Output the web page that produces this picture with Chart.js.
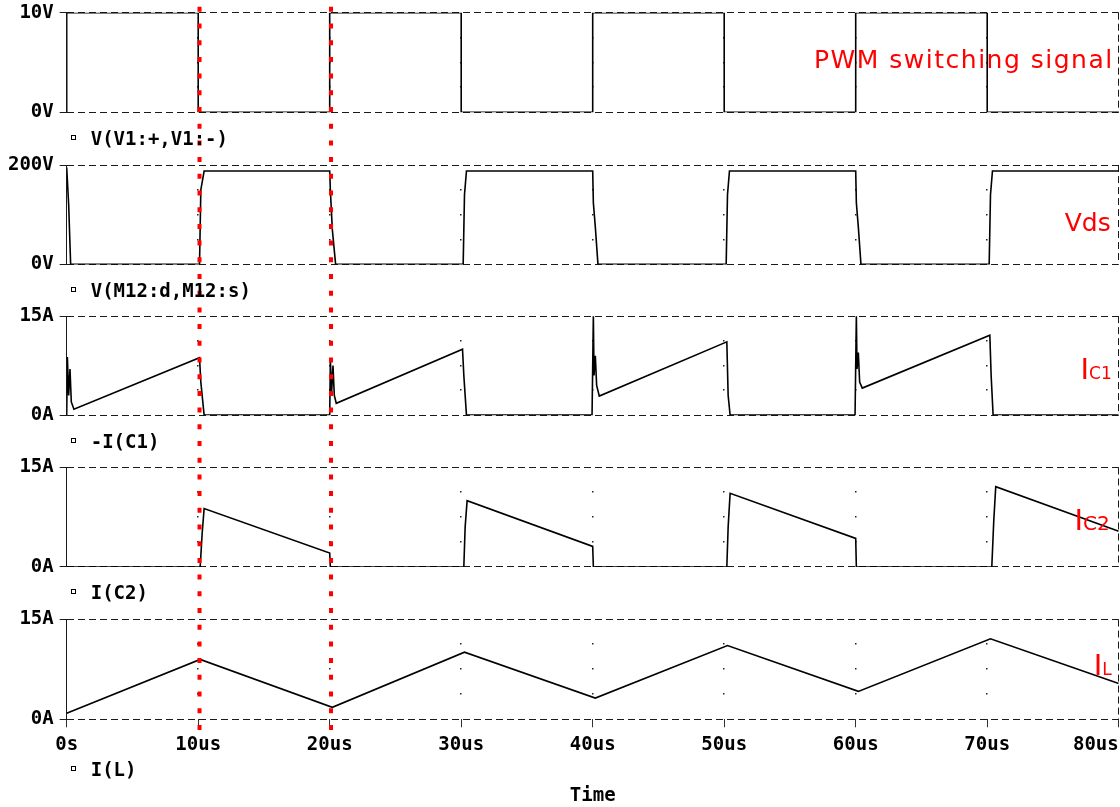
<!DOCTYPE html>
<html>
<head>
<meta charset="utf-8">
<script src="https://cdn.jsdelivr.net/npm/chart.js@4"></script>
<style>
  html, body { margin: 0; padding: 0; background: #fff; }
  canvas { display: block; }
</style>
</head>
<body>
<canvas id="simChart" width="1120" height="807"></canvas>
<script>
// time axis, microseconds
const timeTicks = [0, 10, 20, 30, 40, 50, 60, 70, 80];
const timeLabels = ['0s', '10us', '20us', '30us', '40us', '50us', '60us', '70us', '80us'];

// red cursors and how far they reach (in units of the full-height axis)
const cursorTimes = [10.1, 20.1];
const cursorSpan = [-0.015, 1.018];

// V(V1:+,V1:-) : PWM switching signal
const pwmT = [0, 0, 10, 10, 20, 20, 30, 30, 40, 40, 50, 50, 60, 60, 70, 70, 80];
const pwmV = [0, 10, 10, 0, 0, 10, 10, 0, 0, 10, 10, 0, 0, 10, 10, 0, 0];

// V(M12:d,M12:s) : Vds
const vdsT = [0, 0.15, 0.3, 10.1, 10.2, 10.45, 20.0, 20.05, 20.2, 20.45, 30.15, 30.25, 30.4,
  40.0, 40.05, 40.2, 40.4, 50.15, 50.25, 50.4, 60.0, 60.05, 60.2, 60.4, 70.15, 70.25, 70.4, 80];
const vdsV = [195, 120, 0, 0, 150, 188, 188, 150, 70, 0, 0, 140, 188,
  188, 124, 75, 0, 0, 140, 188, 188, 124, 75, 0, 0, 140, 188, 188];

// -I(C1)
const ic1T = [0, 0.05, 0.15, 0.25, 0.35, 0.55, 10.1, 10.2, 10.45,
  20.0, 20.05, 20.15, 20.25, 20.35, 20.5, 30.1, 30.2, 30.4,
  39.95, 40.05, 40.1, 40.2, 40.3, 40.5, 50.2, 50.3, 50.45,
  59.95, 60.05, 60.1, 60.2, 60.3, 60.5, 70.2, 70.3, 70.45, 80];
const ic1V = [0, 8.8, 3.0, 7.0, 2.0, 0.9, 8.7, 5.0, 0,
  0, 8.3, 3.5, 7.5, 3.0, 1.8, 10.0, 6.0, 0,
  0, 15, 6.0, 9.0, 4.5, 2.9, 11.1, 3.0, 0,
  0, 15, 7.0, 9.5, 5.0, 4.1, 12.1, 6.0, 0, 0];

// I(C2)
const ic2T = [0, 10.15, 10.3, 10.45, 20.0, 20.05, 30.2, 30.3, 30.45, 40.0, 40.05,
  50.2, 50.3, 50.45, 60.0, 60.05, 70.35, 70.5, 70.65, 80];
const ic2V = [0, 0, 5.0, 8.8, 2.1, 0, 0, 6.0, 10.0, 3.1, 0,
  0, 6.0, 11.1, 4.3, 0, 0, 7.0, 12.1, 5.4];

// I(L)
const ilT = [0, 10.15, 20.2, 30.25, 40.2, 50.25, 60.2, 70.25, 80];
const ilV = [0.9, 9.0, 1.8, 10.1, 3.2, 11.1, 4.2, 12.1, 5.4];

const traceNames = ['V(V1:+,V1:-)', 'V(M12:d,M12:s)', '-I(C1)', 'I(C2)', 'I(L)'];
const axisMax = [10, 200, 15, 15, 15];
const axisLabels = [['0V', '10V'], ['0V', '200V'], ['0A', '15A'], ['0A', '15A'], ['0A', '15A']];

// panel and gap heights of the stacked axes
const panelHeights = [99.6, 99.3, 99, 99.4, 99.7];
const gapHeights = [52.7, 51.7, 52.3, 52.6];

const panels = [
  { id: 'yPwm', t: pwmT, v: pwmV },
  { id: 'yVds', t: vdsT, v: vdsV },
  { id: 'yC1', t: ic1T, v: ic1V },
  { id: 'yC2', t: ic2T, v: ic2V },
  { id: 'yL', t: ilT, v: ilV }
];

// red notes: panel, baseline as fraction of panel height, distance of the end from the right edge
const notes = [
  { panel: 0, frac: 0.558, end: 5, spacing: 1.5, runs: [['PWM switching signal', 25]] },
  { panel: 1, frac: 0.665, end: 8, spacing: 0, runs: [['Vds', 25]] },
  { panel: 2, frac: 0.636, end: 7, spacing: 0, runs: [['I', 29], ['C1', 17]] },
  { panel: 3, frac: 0.626, end: 9, spacing: 0, runs: [['I', 29], ['C2', 20]] },
  { panel: 4, frac: 0.559, end: 7, spacing: 0, runs: [['I', 29], ['L', 17]] }
];

const gridColor = '#1a1a1a';
const monoFont = { family: "'DejaVu Sans Mono', monospace", size: 19, weight: 'bold' };

const pts = (t, v) => t.map((x, i) => ({ x: x, y: v[i] }));

function fixWidth(scale) {
  scale.width = 66.7;
  scale.paddingTop = 0;
  scale.paddingBottom = 0;
}

const scales = {
  x: {
    type: 'linear',
    min: 0,
    max: 80,
    afterBuildTicks: s => { s.ticks = timeTicks.map(v => ({ value: v })); },
    ticks: {
      font: monoFont,
      color: '#000',
      padding: 6,
      maxRotation: 0,
      autoSkip: false,
      callback: v => {
        const i = timeTicks.indexOf(v);
        // last label sits left of its tick
        return i === timeTicks.length - 1 ? timeLabels[i] + '    ' : timeLabels[i];
      }
    },
    grid: { drawOnChartArea: false, drawTicks: true, tickLength: 8, color: '#333', tickColor: '#333' },
    border: { display: false },
    title: { display: true, text: 'Time', font: monoFont, color: '#000', padding: 0 },
    afterFit: s => { s.height = 87.7; s.paddingLeft = 0; s.paddingRight = 0; }
  }
};

panels.forEach((p, i) => {
  scales[p.id] = {
    type: 'linear',
    position: 'left',
    stack: 'scope',
    stackWeight: panelHeights[i],
    weight: 20 - 2 * i,
    min: 0,
    max: axisMax[i],
    afterBuildTicks: s => { s.ticks = [{ value: 0 }, { value: axisMax[i] }]; },
    ticks: {
      font: monoFont,
      color: '#000',
      padding: 6,
      callback: v => (v === 0 ? axisLabels[i][0] : axisLabels[i][1])
    },
    grid: { color: gridColor, lineWidth: 1, tickLength: 7, tickColor: gridColor },
    border: { display: true, color: gridColor, width: 1, dash: [7, 4] },
    afterFit: fixWidth
  };
  if (i < gapHeights.length) {
    scales['gap' + i] = {
      type: 'linear',
      position: 'left',
      stack: 'scope',
      stackWeight: gapHeights[i],
      weight: 19 - 2 * i,
      display: false,
      afterFit: fixWidth
    };
  }
});

// full height axis for the cursors
scales.yAll = { type: 'linear', position: 'left', display: false, min: 0, max: 1 };

const datasets = [];
cursorTimes.forEach(t => {
  datasets.push({
    data: [{ x: t, y: cursorSpan[0] }, { x: t, y: cursorSpan[1] }],
    yAxisID: 'yAll',
    borderColor: '#ff0000',
    borderWidth: 4,
    borderDash: [5, 11.7],
    clip: false
  });
});
panels.forEach(p => {
  datasets.push({
    data: pts(p.t, p.v),
    yAxisID: p.id,
    borderColor: '#000',
    borderWidth: 1.6
  });
});

const scopeDecor = {
  id: 'scopeDecor',
  beforeDatasetsDraw(chart) {
    const { ctx, chartArea, scales: sc } = chart;
    ctx.save();
    panels.forEach((p, i) => {
      const y = sc[p.id];
      // right edge of each panel
      ctx.strokeStyle = gridColor;
      ctx.lineWidth = 1;
      ctx.setLineDash([7, 4]);
      ctx.beginPath();
      ctx.moveTo(Math.round(chartArea.right) - 0.5, y.top);
      ctx.lineTo(Math.round(chartArea.right) - 0.5, y.bottom);
      ctx.stroke();
      // dotted grid inside the panel
      ctx.fillStyle = '#222';
      timeTicks.slice(1, -1).forEach(t => {
        [0.25, 0.5, 0.75].forEach(f => {
          const px = sc.x.getPixelForValue(t);
          const py = y.getPixelForValue(axisMax[i] * f);
          ctx.fillRect(Math.round(px) - 1, Math.round(py) - 1, 1.5, 1.5);
        });
      });
    });
    ctx.restore();
  },
  afterDraw(chart) {
    const { ctx, chartArea, scales: sc } = chart;
    ctx.save();
    // trace names under each panel
    ctx.font = "bold 19px 'DejaVu Sans Mono', monospace";
    ctx.textBaseline = 'middle';
    ctx.textAlign = 'left';
    ctx.fillStyle = '#000';
    ctx.strokeStyle = '#000';
    ctx.lineWidth = 1;
    ctx.setLineDash([]);
    panels.forEach((p, i) => {
      const y = sc[p.id];
      const cy = y.bottom + (i === panels.length - 1 ? 51.5 : 27.5);
      ctx.strokeRect(Math.round(chartArea.left + 4) + 0.5, Math.round(cy - 5) + 0.5, 4, 4);
      ctx.fillText(traceNames[i], chartArea.left + 24, cy);
    });
    // red notes
    ctx.fillStyle = '#ff0000';
    ctx.textBaseline = 'alphabetic';
    notes.forEach(n => {
      const y = sc[panels[n.panel].id];
      const base = y.top + n.frac * (y.bottom - y.top);
      ctx.letterSpacing = n.spacing + 'px';
      let total = 0;
      n.runs.forEach(r => {
        ctx.font = r[1] + "px 'DejaVu Sans', sans-serif";
        total += ctx.measureText(r[0]).width;
      });
      let x = chartArea.right - n.end - total;
      n.runs.forEach(r => {
        ctx.font = r[1] + "px 'DejaVu Sans', sans-serif";
        ctx.fillText(r[0], x, base);
        x += ctx.measureText(r[0]).width;
      });
      ctx.letterSpacing = '0px';
    });
    ctx.restore();
  }
};

const simChart = new Chart(document.getElementById('simChart').getContext('2d'), {
  type: 'line',
  data: { datasets: datasets },
  options: {
    responsive: false,
    devicePixelRatio: 1,
    animation: false,
    layout: { padding: { top: 12.7, right: 1.3, left: 0, bottom: 0 } },
    elements: { point: { radius: 0 }, line: { tension: 0 } },
    plugins: { legend: { display: false }, tooltip: { enabled: false } },
    scales: scales
  },
  plugins: [scopeDecor]
});
</script>
</body>
</html>
